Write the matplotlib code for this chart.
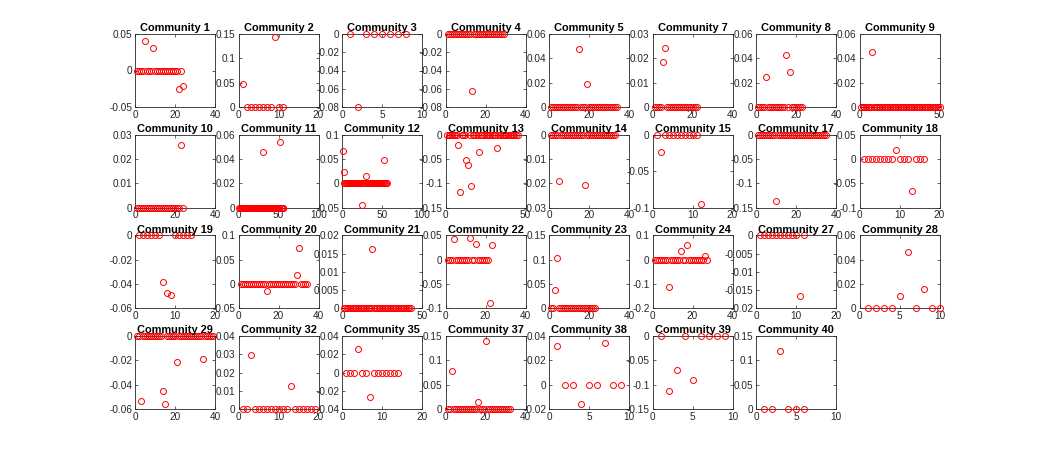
import matplotlib
matplotlib.use("Agg")
import matplotlib.pyplot as plt
import numpy as np
from matplotlib.ticker import FuncFormatter

plt.rcParams["font.family"] = ["Liberation Sans", "DejaVu Sans"]

# community ids shown in the grid (reading order)
community_ids = [1, 2, 3, 4, 5, 7, 8, 9,
                 10, 11, 12, 13, 14, 15, 17, 18,
                 19, 20, 21, 22, 23, 24, 27, 28,
                 29, 32, 35, 37, 38, 39, 40]

# values per member (x = 1..n)
c1 = [0, 0, 0, 0, 0.040, 0, 0, 0, 0.031, 0,
      0, 0, 0, 0, 0, 0, 0, 0, 0, 0,
      0, -0.026, 0, -0.021]
c2 = [0.047, 0, 0, 0, 0, 0, 0, 0, 0.143, 0, 0]
c3 = [0, -0.080, 0, 0, 0, 0, 0, 0]
c4 = [0, 0, 0, 0, 0, 0, 0, 0, 0, 0,
      0, 0, -0.062, 0, 0, 0, 0, 0, 0, 0,
      0, 0, 0, 0, 0, 0, 0, 0, 0]
c5 = [0, 0, 0, 0, 0, 0, 0, 0, 0, 0,
      0, 0, 0, 0, 0.048, 0, 0, 0, 0.019, 0,
      0, 0, 0, 0, 0, 0, 0, 0, 0, 0,
      0, 0, 0, 0]
c7 = [0, 0, 0, 0, 0.0185, 0.0243, 0, 0, 0, 0,
      0, 0, 0, 0, 0, 0, 0, 0, 0, 0,
      0, 0]
c8 = [0, 0, 0, 0, 0.025, 0, 0, 0, 0, 0,
      0, 0, 0, 0, 0.043, 0, 0.029, 0, 0, 0,
      0, 0, 0]
c9 = [0, 0, 0, 0, 0, 0, 0, 0.045, 0, 0,
      0, 0, 0, 0, 0, 0, 0, 0, 0, 0,
      0, 0, 0, 0, 0, 0, 0, 0, 0, 0,
      0, 0, 0, 0, 0, 0, 0, 0, 0, 0,
      0, 0, 0, 0, 0, 0, 0, 0, 0, 0]
c10 = [0, 0, 0, 0, 0, 0, 0, 0, 0, 0,
       0, 0, 0, 0, 0, 0, 0, 0, 0, 0,
       0, 0, 0.0256, 0]
c11 = [0, 0, 0, 0, 0, 0, 0, 0, 0, 0,
       0, 0, 0, 0, 0, 0, 0, 0, 0, 0,
       0, 0, 0, 0, 0, 0, 0, 0, 0, 0.046,
       0, 0, 0, 0, 0, 0, 0, 0, 0, 0,
       0, 0, 0, 0, 0, 0, 0, 0, 0, 0,
       0, 0.054, 0, 0, 0, 0]
c12 = [0.066, 0, 0.023, 0, 0, 0, 0, 0, 0, 0,
       0, 0, 0, 0, 0, 0, 0, 0, 0, 0,
       0, 0, 0, 0, -0.044, 0, 0, 0, 0, 0.015,
       0, 0, 0, 0, 0, 0, 0, 0, 0, 0,
       0, 0, 0, 0, 0, 0, 0, 0, 0, 0,
       0, 0, 0.048, 0, 0, 0]
c13 = [0, 0, 0, 0, 0, 0, 0, -0.0205, -0.117, 0,
       0, 0, -0.052, -0.063, 0, -0.106, 0, 0, 0, 0,
       -0.036, 0, 0, 0, 0, 0, 0, 0, 0, 0,
       0, -0.028, 0, 0, 0, 0, 0, 0, 0, 0,
       0, 0, 0, 0, 0]
c14 = [0, 0, 0, 0, -0.019, 0, 0, 0, 0, 0,
       0, 0, 0, 0, 0, 0, 0, -0.0205, 0, 0,
       0, 0, 0, 0, 0, 0, 0, 0, 0, 0,
       0, 0, 0]
c15 = [0, -0.024, 0, 0, 0, 0, 0, 0, 0, 0, 0, -0.095]
c17 = [0, 0, 0, 0, 0, 0, 0, 0, 0, -0.137,
       0, 0, 0, 0, 0, 0, 0, 0, 0, 0,
       0, 0, 0, 0, 0, 0, 0, 0, 0, 0,
       0, 0, 0, 0, 0]
c18 = [0, 0, 0, 0, 0, 0, 0, 0, 0.019, 0,
       0, 0, -0.065, 0, 0, 0]
c19 = [0, 0, 0, 0, 0, 0, -0.0385, -0.0475, -0.049, 0,
       0, 0, 0, 0]
c20 = [0, 0, 0, 0, 0, 0, 0, 0, 0, 0,
       0, 0, 0, -0.015, 0, 0, 0, 0, 0, 0,
       0, 0, 0, 0, 0, 0, 0, 0, 0.018, 0.0735,
       0, 0, 0, 0]
c21 = [0, 0, 0, 0, 0, 0, 0, 0, 0, 0,
       0, 0, 0, 0, 0, 0, 0, 0, 0.0164, 0,
       0, 0, 0, 0, 0, 0, 0, 0, 0, 0,
       0, 0, 0, 0, 0, 0, 0, 0, 0, 0,
       0, 0, 0]
c22 = [0, 0, 0, 0.0425, 0, 0, 0, 0, 0, 0,
       0, 0.044, 0, 0, 0.033, 0, 0, 0, 0, 0,
       0, -0.0895, 0.031]
c23 = [0, 0, 0.038, 0.104, 0, 0, 0, 0, 0, 0,
       0, 0, 0, 0, 0, 0, 0, 0, 0, 0,
       0, 0, 0]
c24 = [0, 0, 0, 0, 0, 0, 0, -0.114, 0, 0,
       0, 0, 0, 0.034, 0, 0, 0.059, 0, 0, 0,
       0, 0, 0, 0, 0, 0.015, 0]
c27 = [0, 0, 0, 0, 0, 0, 0, 0, 0, 0, -0.0165, 0]
c28 = [0, 0, 0, 0, 0.0105, 0.0462, 0, 0.016, 0, 0]
c29 = [0, 0, -0.053, 0, 0, 0, 0, 0, 0, 0,
       0, 0, 0, -0.0455, -0.056, 0, 0, 0, 0, 0,
       -0.0213, 0, 0, 0, 0, 0, 0, 0, 0, 0,
       0, 0, 0, -0.019, 0, 0, 0, 0, 0]
c32 = [0, 0, 0.0298, 0, 0, 0, 0, 0, 0, 0,
       0, 0, 0.0126, 0, 0, 0, 0, 0, 0]
c35 = [0, 0, 0, 0.026, 0, 0, -0.0265, 0, 0, 0,
       0, 0, 0, 0]
c37 = [0, 0, 0.078, 0, 0, 0, 0, 0, 0, 0,
       0, 0, 0, 0, 0, 0.0155, 0, 0, 0, 0.139,
       0, 0, 0, 0, 0, 0, 0, 0, 0, 0,
       0, 0]
c38 = [0.032, 0, 0, -0.0162, 0, 0, 0.0343, 0, 0]
c39 = [0, -0.1125, -0.069, 0, -0.0907, 0, 0, 0, 0]
c40 = [0, 0, 0.12, 0, 0, 0]

series = [c1, c2, c3, c4, c5, c7, c8, c9,
          c10, c11, c12, c13, c14, c15, c17, c18,
          c19, c20, c21, c22, c23, c24, c27, c28,
          c29, c32, c35, c37, c38, c39, c40]

# axis ranges: (x max, y min, y max, y tick step)
ranges = [(40, -0.05, 0.05, 0.05), (20, 0, 0.15, 0.05), (10, -0.08, 0, 0.02),
          (40, -0.08, 0, 0.02), (40, 0, 0.06, 0.02), (40, 0, 0.03, 0.01),
          (40, 0, 0.06, 0.02), (50, 0, 0.06, 0.02),
          (40, 0, 0.03, 0.01), (100, 0, 0.06, 0.02), (100, -0.05, 0.1, 0.05),
          (50, -0.15, 0, 0.05), (40, -0.03, 0, 0.01), (20, -0.1, 0, 0.05),
          (40, -0.15, 0, 0.05), (20, -0.1, 0.05, 0.05),
          (20, -0.06, 0, 0.02), (40, -0.05, 0.1, 0.05), (50, 0, 0.02, 0.005),
          (40, -0.1, 0.05, 0.05), (40, 0, 0.15, 0.05), (40, -0.2, 0.1, 0.1),
          (20, -0.02, 0, 0.005), (10, 0, 0.06, 0.02),
          (40, -0.06, 0, 0.02), (20, 0, 0.04, 0.01), (20, -0.04, 0.04, 0.02),
          (40, 0, 0.15, 0.05), (10, -0.02, 0.04, 0.02), (10, -0.15, 0, 0.05),
          (10, 0, 0.15, 0.05)]

W, H = 1038, 459
fig = plt.figure(figsize=(W / 100, H / 100), dpi=100)
fmt = FuncFormatter(lambda v, p: "%g" % round(v, 6))
edge = "#262626"

for k, (cid, vals, (xmax, ymin, ymax, ystep)) in enumerate(zip(community_ids, series, ranges)):
    r, c = divmod(k, 8)
    left = (135 + 103.5 * c) / W
    bottom = 1 - (34 + 100.7 * r + 73) / H
    ax = fig.add_axes([left, bottom, 80 / W, 73 / H])
    x = np.arange(1, len(vals) + 1)
    ax.plot(x, vals, "o", mfc="none", mec="#ff0000", ms=4.3, mew=0.7,
            clip_on=False, zorder=3)
    ax.set_xlim(0, xmax)
    ax.set_ylim(ymin, ymax)
    ax.set_xticks([0, 50] if xmax == 50 else [0, xmax / 2, xmax])
    ax.set_yticks(np.arange(ymin, ymax + ystep / 2, ystep))
    ax.xaxis.set_major_formatter(fmt)
    ax.yaxis.set_major_formatter(fmt)
    ax.tick_params(direction="in", length=2, width=0.5, labelsize=7.2,
                   colors=edge, top=True, right=True, pad=2)
    for s in ax.spines.values():
        s.set_color(edge)
        s.set_linewidth(0.6)
    ax.set_title("Community %d" % cid, fontsize=7.9, fontweight="bold", pad=2)

fig.savefig("out.png", dpi=100, facecolor="white")
